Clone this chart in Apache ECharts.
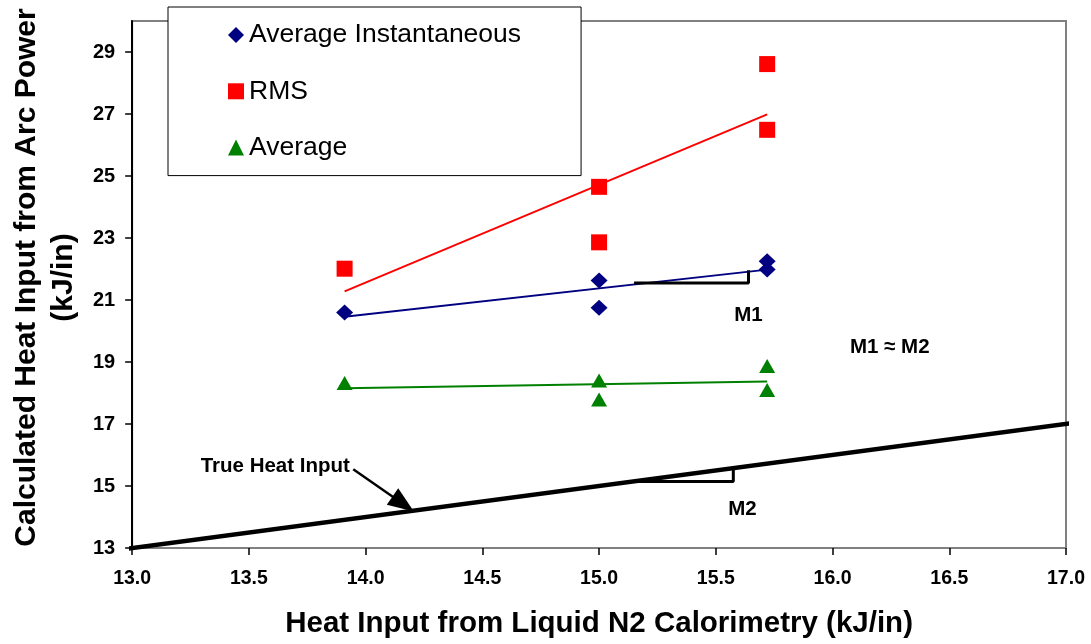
<!DOCTYPE html>
<html><head><meta charset="utf-8">
<script src="https://cdn.jsdelivr.net/npm/echarts@6/dist/echarts.min.js"></script>
<style>html,body{margin:0;padding:0;background:#fff}#c{width:1091px;height:644px}</style>
</head><body><div id="c"></div>
<script>
const FONT = '"Liberation Sans", Arial, Helvetica, sans-serif';

// ---- data ----
const seriesNames = ['Average Instantaneous', 'RMS', 'Average'];
const xTicks = [13.0, 13.5, 14.0, 14.5, 15.0, 15.5, 16.0, 16.5, 17.0];
const yTicks = [13, 15, 17, 19, 21, 23, 25, 27, 29];

const avgInstX = [13.91, 15.00, 15.00, 15.72, 15.72];
const avgInstY = [20.60, 21.63, 20.75, 22.25, 21.98];
const rmsX = [13.91, 15.00, 15.00, 15.72, 15.72];
const rmsY = [22.01, 24.65, 22.86, 28.61, 26.49];
const avgX = [13.91, 15.00, 15.00, 15.72, 15.72];
const avgY = [18.32, 18.40, 17.79, 18.87, 18.10];

// trend lines (end points)
const avgInstTrendX = [13.91, 15.72];
const avgInstTrendY = [20.46, 21.98];
const rmsTrendX = [13.91, 15.72];
const rmsTrendY = [21.28, 26.99];
const avgTrendX = [13.91, 15.72];
const avgTrendY = [18.15, 18.37];

// true heat input (y = x)
const trueX = [12.97, 17.03];
const trueY = [12.97, 17.03];

// slope brackets
const m1X = [15.15, 15.64, 15.64];
const m1Y = [21.55, 21.55, 21.96];
const m2X = [15.147, 15.575, 15.575];
const m2Y = [15.147, 15.147, 15.52];

// annotation texts
const noteText = ['True Heat Input', 'M1', 'M2', 'M1 \u2248 M2'];
const noteX = [13.613, 15.64, 15.614, 16.245];
const noteY = [15.65, 20.50, 14.26, 19.46];

// arrow
const arrowX = [13.947, 14.161];
const arrowY = [15.54, 14.42];

const zip = (xs, ys) => xs.map((x, i) => [x, ys[i]]);

const chart = echarts.init(document.getElementById('c'), null, {renderer: 'canvas'});
chart.setOption({
  animation: false,
  backgroundColor: '#fff',
  textStyle: {fontFamily: FONT},
  grid: {left: 130, right: 25, top: 21, bottom: 95, show: true, borderColor: '#808080', borderWidth: 2, backgroundColor: 'transparent'},
  legend: {
    data: seriesNames,
    orient: 'vertical',
    left: 168, top: 7,
    padding: [14.5, 60, 14.5, 60],
    itemGap: 29.3,
    itemWidth: 16, itemHeight: 16,
    backgroundColor: '#fff',
    borderColor: '#000', borderWidth: 1,
    textStyle: {fontFamily: FONT, fontSize: 26.5, color: '#000', lineHeight: 26},
    selectedMode: false,
    z: 10
  },
  xAxis: {
    type: 'value', min: 13, max: 17, interval: 0.5,
    axisLine: {show: true, lineStyle: {color: '#808080', width: 2}},
    axisTick: {show: true, length: 7, lineStyle: {color: '#000', width: 1.5}},
    axisLabel: {margin: 21, fontFamily: FONT, fontSize: 19.5, fontWeight: 'bold', color: '#000',
      customValues: xTicks, formatter: v => Number(v).toFixed(1)},
    splitLine: {show: false},
    name: 'Heat Input from Liquid N2 Calorimetry (kJ/in)',
    nameLocation: 'middle', nameGap: 61,
    nameTextStyle: {fontFamily: FONT, fontSize: 29.5, fontWeight: 'bold', color: '#000'}
  },
  yAxis: {
    type: 'value', min: 13, max: 30, interval: 1,
    axisLine: {show: true, lineStyle: {color: '#000', width: 2}},
    axisTick: {show: true, length: 7, customValues: yTicks, lineStyle: {color: '#000', width: 1.5}},
    axisLabel: {margin: 17, fontFamily: FONT, fontSize: 20, fontWeight: 'bold', color: '#000',
      customValues: yTicks},
    splitLine: {show: false},
    name: 'Calculated Heat Input from Arc Power\n(kJ/in)',
    nameLocation: 'middle', nameGap: 47, nameRotate: 90,
    nameTextStyle: {fontFamily: FONT, fontSize: 30, fontWeight: 'bold', color: '#000', lineHeight: 37,
      padding: [0, 0, 0, 14]}
  },
  series: [
    {name: 'trueLine', type: 'line', data: zip(trueX, trueY), showSymbol: false, symbol: 'none', clip: false,
      lineStyle: {color: '#000', width: 4.5}, z: 3, silent: true},
    {name: 'avgInstTrend', type: 'line', data: zip(avgInstTrendX, avgInstTrendY), symbol: 'none',
      lineStyle: {color: '#000080', width: 2}, z: 3, silent: true},
    {name: 'rmsTrend', type: 'line', data: zip(rmsTrendX, rmsTrendY), symbol: 'none',
      lineStyle: {color: '#ff0000', width: 2}, z: 3, silent: true},
    {name: 'avgTrend', type: 'line', data: zip(avgTrendX, avgTrendY), symbol: 'none',
      lineStyle: {color: '#008000', width: 2}, z: 3, silent: true},
    {name: 'm1', type: 'line', data: zip(m1X, m1Y), symbol: 'none',
      lineStyle: {color: '#000', width: 3}, z: 4, silent: true},
    {name: 'm2', type: 'line', data: zip(m2X, m2Y), symbol: 'none',
      lineStyle: {color: '#000', width: 3}, z: 4, silent: true},
    {name: seriesNames[0], type: 'scatter', symbol: 'diamond', symbolSize: [17, 16],
      itemStyle: {color: '#000080', opacity: 1}, data: zip(avgInstX, avgInstY), z: 5},
    {name: seriesNames[1], type: 'scatter', symbol: 'rect', symbolSize: 16,
      itemStyle: {color: '#ff0000', opacity: 1}, data: zip(rmsX, rmsY), z: 5},
    {name: seriesNames[2], type: 'scatter', symbol: 'triangle', symbolSize: [16, 14],
      itemStyle: {color: '#008000', opacity: 1}, data: zip(avgX, avgY), z: 5},
    {name: 'notes', type: 'scatter', symbolSize: 0, silent: true, z: 6,
      itemStyle: {opacity: 1, color: '#000'},
      data: noteText.map((t, i) => ({name: t, value: [noteX[i], noteY[i]]})),
      label: {show: true, position: 'inside', formatter: '{b}', fontFamily: FONT, fontSize: 20.5,
        fontWeight: 'bold', color: '#000', opacity: 1},
      markLine: {
        silent: true, symbol: ['none', 'triangle'], symbolSize: [20, 26],
        label: {show: false},
        lineStyle: {color: '#000', width: 2.5, type: 'solid', opacity: 1},
        data: [[{coord: [arrowX[0], arrowY[0]]}, {coord: [arrowX[1], arrowY[1]]}]]
      }
    }
  ]
});
</script></body></html>
